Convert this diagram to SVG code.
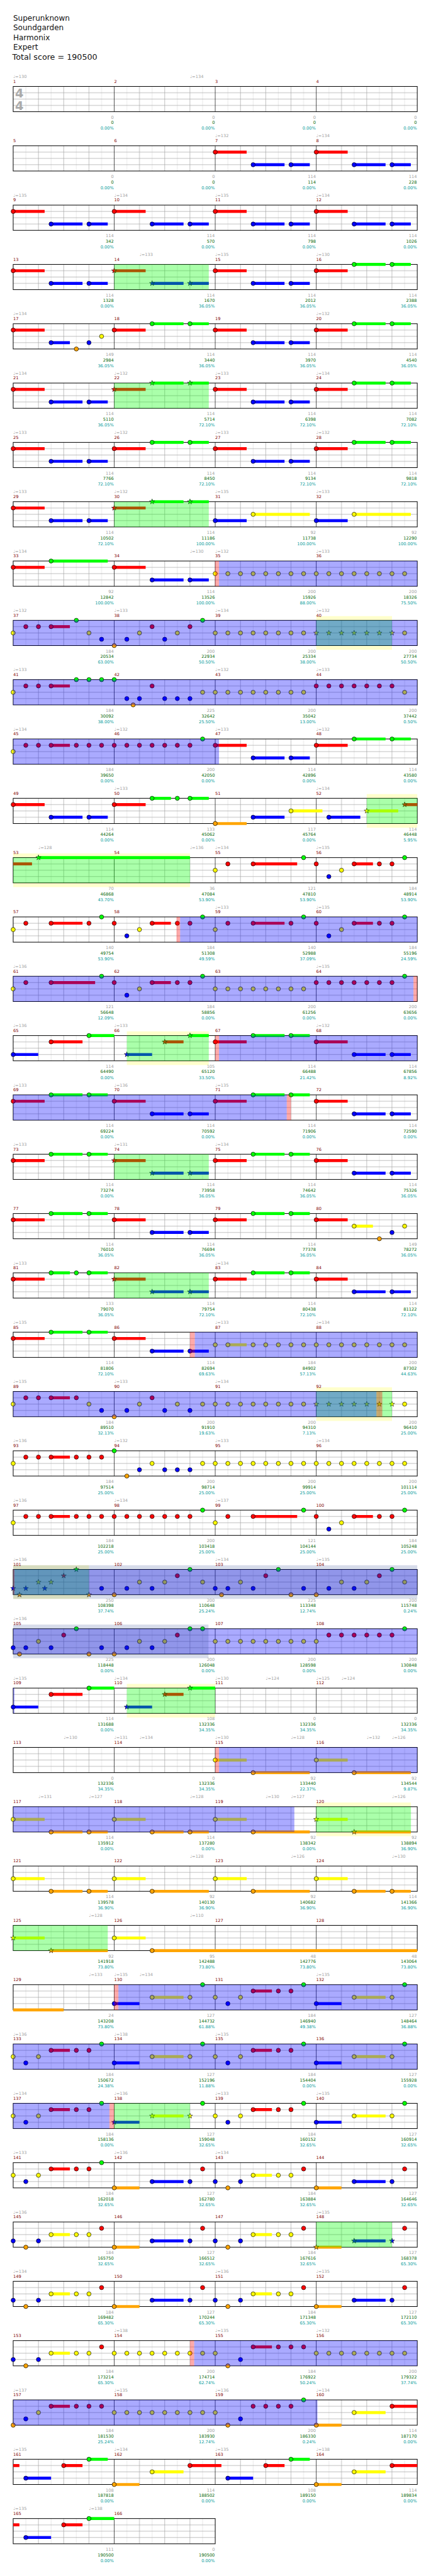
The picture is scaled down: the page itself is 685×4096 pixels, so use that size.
<svg xmlns="http://www.w3.org/2000/svg" width="685" height="4096" viewBox="0 0 685 4096">
<style>
text{font-family:"DejaVu Sans",Verdana,sans-serif;font-size:10px}
.h{font-size:18px;fill:#111}
.ts{font-size:29px;font-weight:bold;fill:#aaa}
.tp{fill:#a0a0a0}.mn{fill:#800000}
.a,.b,.c{text-anchor:end}.a{fill:#a0a0a0}.b{fill:#006400}.c{fill:#009999}
.G{fill:#0f0}.R{fill:#f00}.Y{fill:#ff0}.B{fill:#00f}.O{fill:#ffa500}
.zG,.zR,.zY,.zB,.zO{fill:none;stroke-width:7}
.zG{stroke:#0f0}.zR{stroke:#f00}.zY{stroke:#ff0}.zB{stroke:#00f}.zO{stroke:#ffa500}
.ob{fill:#00f;fill-opacity:.333}.og{fill:#0f0;fill-opacity:.333}.op{fill:#f00;fill-opacity:.333}.yb{fill:#ffc}.gb{fill:#203c88;fill-opacity:.18}
</style>
<defs>
<pattern id="grid" width="240" height="60" patternUnits="userSpaceOnUse"><rect width="240" height="60" fill="#fff"/><path d="M30 0V60M90 0V60M150 0V60M210 0V60" stroke="#ddd"/><path d="M0 15H240M0 30H240M0 45H240M60 0V60M120 0V60M180 0V60" stroke="#a0a0a0"/></pattern>
<g id="st4"><rect width="960" height="60" fill="url(#grid)"/><path d="M240 0V60M480 0V60M720 0V60" stroke="#000"/><rect width="960" height="60" fill="none" stroke="#000" stroke-width="1.5"/></g>
<g id="st2"><rect width="480" height="60" fill="url(#grid)"/><path d="M240 0V60" stroke="#000"/><rect width="480" height="60" fill="none" stroke="#000" stroke-width="1.5"/></g>
<circle id="n" r="5" stroke="#000" stroke-width="1"/>
<path id="s" d="M0-6.5L1.5-2.1 6.2-2 2.5.8 3.8 5.3 0 2.6-3.8 5.3-2.5.8-6.2-2-1.5-2.1Z" stroke="#000" stroke-width=".8"/>
</defs>
<g transform="scale(0.66895)">
<g id="title">
<text class="h" x="31.3" y="49.3">Superunknown</text>
<text class="h" x="31.3" y="72.3">Soundgarden</text>
<text class="h" x="31.3" y="95.3">Harmonix</text>
<text class="h" x="31.3" y="118.3">Expert</text>
<text class="h" x="29.3" y="141.3" style="font-size:19px">Total score = 190500</text>
</g>

<g id="row-1" transform="translate(31.33 205.5)">
<use href="#st4"/>
<text class="ts" x="4.5" y="26.5">4</text><text class="ts" x="4.5" y="56.5">4</text>
<text class="tp" y="-20"><tspan x="0">♩=130</tspan><tspan x="420">♩=134</tspan></text>
<text class="mn" y="-8.5"><tspan x="0">1</tspan><tspan x="240">2</tspan><tspan x="480">3</tspan><tspan x="720">4</tspan></text>
<text class="a" y="76.5"><tspan x="239">0</tspan><tspan x="479">0</tspan><tspan x="719">0</tspan><tspan x="959">0</tspan></text>
<text class="b" y="89.5"><tspan x="239">0</tspan><tspan x="479">0</tspan><tspan x="719">0</tspan><tspan x="959">0</tspan></text>
<text class="c" y="103"><tspan x="239">0.00%</tspan><tspan x="479">0.00%</tspan><tspan x="719">0.00%</tspan><tspan x="959">0.00%</tspan></text>
</g>

<g id="row-2" transform="translate(31.33 346.5)">
<use href="#st4"/>
<path class="zR" d="M480 15H554.7M720 15H794.7"/>
<path class="zB" d="M570 45H644.7M660 45H704.7M810 45H884.7M900 45H944.7"/>
<g class="R" transform="translate(0 15)"><use href="#n" x="480"/><use href="#n" x="720"/></g>
<g class="B" transform="translate(0 45)"><use href="#n" x="570"/><use href="#n" x="660"/><use href="#n" x="810"/><use href="#n" x="900"/></g>
<text class="tp" y="-20"><tspan x="480">♩=132</tspan><tspan x="720">♩=134</tspan></text>
<text class="mn" y="-8.5"><tspan x="0">5</tspan><tspan x="240">6</tspan><tspan x="480">7</tspan><tspan x="720">8</tspan></text>
<text class="a" y="76.5"><tspan x="239">0</tspan><tspan x="479">0</tspan><tspan x="719">114</tspan><tspan x="959">114</tspan></text>
<text class="b" y="89.5"><tspan x="239">0</tspan><tspan x="479">0</tspan><tspan x="719">114</tspan><tspan x="959">228</tspan></text>
<text class="c" y="103"><tspan x="239">0.00%</tspan><tspan x="479">0.00%</tspan><tspan x="719">0.00%</tspan><tspan x="959">0.00%</tspan></text>
</g>

<g id="row-3" transform="translate(31.33 487.5)">
<use href="#st4"/>
<path class="zR" d="M0 15H74.7M240 15H314.7M480 15H554.7M720 15H794.7"/>
<path class="zB" d="M90 45H164.7M180 45H224.7M330 45H404.7M420 45H464.7M570 45H644.7M660 45H704.7M810 45H884.7M900 45H944.7"/>
<g class="R" transform="translate(0 15)"><use href="#n" x="0"/><use href="#n" x="240"/><use href="#n" x="480"/><use href="#n" x="720"/></g>
<g class="B" transform="translate(0 45)"><use href="#n" x="90"/><use href="#n" x="180"/><use href="#n" x="330"/><use href="#n" x="420"/><use href="#n" x="570"/><use href="#n" x="660"/><use href="#n" x="810"/><use href="#n" x="900"/></g>
<text class="tp" y="-20"><tspan x="0">♩=135</tspan><tspan x="240">♩=134</tspan><tspan x="480">♩=135</tspan><tspan x="720">♩=134</tspan></text>
<text class="mn" y="-8.5"><tspan x="0">9</tspan><tspan x="240">10</tspan><tspan x="480">11</tspan><tspan x="720">12</tspan></text>
<text class="a" y="76.5"><tspan x="239">114</tspan><tspan x="479">114</tspan><tspan x="719">114</tspan><tspan x="959">114</tspan></text>
<text class="b" y="89.5"><tspan x="239">342</tspan><tspan x="479">570</tspan><tspan x="719">798</tspan><tspan x="959">1026</tspan></text>
<text class="c" y="103"><tspan x="239">0.00%</tspan><tspan x="479">0.00%</tspan><tspan x="719">0.00%</tspan><tspan x="959">0.00%</tspan></text>
</g>

<g id="row-4" transform="translate(31.33 628.5)">
<use href="#st4"/>
<path class="zR" d="M0 15H74.7M240 15H314.7M480 15H554.7M720 15H794.7"/>
<path class="zB" d="M90 45H164.7M180 45H224.7M330 45H404.7M420 45H464.7M570 45H644.7M660 45H704.7"/>
<path class="zG" d="M810 0H884.7M900 0H944.7"/>
<g class="R" transform="translate(0 15)"><use href="#n" x="0"/><use href="#n" x="480"/><use href="#n" x="720"/><use href="#s" x="240"/></g>
<g class="B" transform="translate(0 45)"><use href="#n" x="90"/><use href="#n" x="180"/><use href="#n" x="570"/><use href="#n" x="660"/><use href="#s" x="330"/><use href="#s" x="420"/></g>
<g class="G"><use href="#n" x="810"/><use href="#n" x="900"/></g>
<rect class="og" x="240" width="224.7" height="60"/>
<text class="tp" y="-20"><tspan x="300">♩=133</tspan><tspan x="480">♩=135</tspan><tspan x="720">♩=130</tspan></text>
<text class="mn" y="-8.5"><tspan x="0">13</tspan><tspan x="240">14</tspan><tspan x="480">15</tspan><tspan x="720">16</tspan></text>
<text class="a" y="76.5"><tspan x="239">114</tspan><tspan x="479">114</tspan><tspan x="719">114</tspan><tspan x="959">114</tspan></text>
<text class="b" y="89.5"><tspan x="239">1328</tspan><tspan x="479">1670</tspan><tspan x="719">2012</tspan><tspan x="959">2388</tspan></text>
<text class="c" y="103"><tspan x="239">0.00%</tspan><tspan x="479">36.05%</tspan><tspan x="719">36.05%</tspan><tspan x="959">36.05%</tspan></text>
</g>

<g id="row-5" transform="translate(31.33 769.5)">
<use href="#st4"/>
<path class="zR" d="M0 15H74.7M240 15H314.7M480 15H554.7M720 15H794.7"/>
<path class="zB" d="M90 45H134.7M570 45H644.7M660 45H704.7"/>
<path class="zG" d="M330 0H404.7M420 0H464.7M810 0H884.7M900 0H944.7"/>
<g class="R" transform="translate(0 15)"><use href="#n" x="0"/><use href="#n" x="240"/><use href="#n" x="480"/><use href="#n" x="720"/></g>
<g class="B" transform="translate(0 45)"><use href="#n" x="90"/><use href="#n" x="180"/><use href="#n" x="570"/><use href="#n" x="660"/></g>
<g class="O" transform="translate(0 60)"><use href="#n" x="150"/></g>
<g class="Y" transform="translate(0 30)"><use href="#n" x="210"/></g>
<g class="G"><use href="#n" x="330"/><use href="#n" x="420"/><use href="#n" x="810"/><use href="#n" x="900"/></g>
<text class="tp" y="-20"><tspan x="0">♩=134</tspan><tspan x="720">♩=132</tspan></text>
<text class="mn" y="-8.5"><tspan x="0">17</tspan><tspan x="240">18</tspan><tspan x="480">19</tspan><tspan x="720">20</tspan></text>
<text class="a" y="76.5"><tspan x="239">149</tspan><tspan x="479">114</tspan><tspan x="719">114</tspan><tspan x="959">114</tspan></text>
<text class="b" y="89.5"><tspan x="239">2984</tspan><tspan x="479">3440</tspan><tspan x="719">3970</tspan><tspan x="959">4540</tspan></text>
<text class="c" y="103"><tspan x="239">36.05%</tspan><tspan x="479">36.05%</tspan><tspan x="719">36.05%</tspan><tspan x="959">36.05%</tspan></text>
</g>

<g id="row-6" transform="translate(31.33 910.5)">
<use href="#st4"/>
<path class="zR" d="M0 15H74.7M240 15H314.7M480 15H554.7M720 15H794.7"/>
<path class="zB" d="M90 45H164.7M180 45H224.7M570 45H644.7M660 45H704.7"/>
<path class="zG" d="M330 0H404.7M420 0H464.7M810 0H884.7M900 0H944.7"/>
<g class="R" transform="translate(0 15)"><use href="#n" x="0"/><use href="#n" x="480"/><use href="#n" x="720"/><use href="#s" x="240"/></g>
<g class="B" transform="translate(0 45)"><use href="#n" x="90"/><use href="#n" x="180"/><use href="#n" x="570"/><use href="#n" x="660"/></g>
<g class="G"><use href="#n" x="810"/><use href="#n" x="900"/><use href="#s" x="330"/><use href="#s" x="420"/></g>
<rect class="og" x="240" width="224.7" height="60"/>
<text class="tp" y="-20"><tspan x="0">♩=134</tspan><tspan x="240">♩=132</tspan><tspan x="480">♩=133</tspan><tspan x="720">♩=134</tspan></text>
<text class="mn" y="-8.5"><tspan x="0">21</tspan><tspan x="240">22</tspan><tspan x="480">23</tspan><tspan x="720">24</tspan></text>
<text class="a" y="76.5"><tspan x="239">114</tspan><tspan x="479">114</tspan><tspan x="719">114</tspan><tspan x="959">114</tspan></text>
<text class="b" y="89.5"><tspan x="239">5110</tspan><tspan x="479">5714</tspan><tspan x="719">6398</tspan><tspan x="959">7082</tspan></text>
<text class="c" y="103"><tspan x="239">36.05%</tspan><tspan x="479">72.10%</tspan><tspan x="719">72.10%</tspan><tspan x="959">72.10%</tspan></text>
</g>

<g id="row-7" transform="translate(31.33 1051.5)">
<use href="#st4"/>
<path class="zR" d="M0 15H74.7M240 15H314.7M480 15H554.7M720 15H794.7"/>
<path class="zB" d="M90 45H164.7M180 45H224.7M570 45H644.7M660 45H704.7"/>
<path class="zG" d="M330 0H404.7M420 0H464.7M810 0H884.7M900 0H944.7"/>
<g class="R" transform="translate(0 15)"><use href="#n" x="0"/><use href="#n" x="240"/><use href="#n" x="480"/><use href="#n" x="720"/></g>
<g class="B" transform="translate(0 45)"><use href="#n" x="90"/><use href="#n" x="180"/><use href="#n" x="570"/><use href="#n" x="660"/></g>
<g class="G"><use href="#n" x="330"/><use href="#n" x="420"/><use href="#n" x="810"/><use href="#n" x="900"/></g>
<text class="tp" y="-20"><tspan x="0">♩=133</tspan><tspan x="240">♩=132</tspan><tspan x="480">♩=133</tspan><tspan x="720">♩=132</tspan></text>
<text class="mn" y="-8.5"><tspan x="0">25</tspan><tspan x="240">26</tspan><tspan x="480">27</tspan><tspan x="720">28</tspan></text>
<text class="a" y="76.5"><tspan x="239">114</tspan><tspan x="479">114</tspan><tspan x="719">114</tspan><tspan x="959">114</tspan></text>
<text class="b" y="89.5"><tspan x="239">7766</tspan><tspan x="479">8450</tspan><tspan x="719">9134</tspan><tspan x="959">9818</tspan></text>
<text class="c" y="103"><tspan x="239">72.10%</tspan><tspan x="479">72.10%</tspan><tspan x="719">72.10%</tspan><tspan x="959">72.10%</tspan></text>
</g>

<g id="row-8" transform="translate(31.33 1192.5)">
<use href="#st4"/>
<path class="zR" d="M0 15H74.7M240 15H314.7"/>
<path class="zB" d="M90 45H164.7M180 45H224.7M480 45H554.7M720 45H794.7"/>
<path class="zG" d="M330 0H404.7M420 0H464.7"/>
<path class="zY" d="M570 30H704.7M810 30H944.7"/>
<g class="R" transform="translate(0 15)"><use href="#n" x="0"/><use href="#s" x="240"/></g>
<g class="B" transform="translate(0 45)"><use href="#n" x="90"/><use href="#n" x="180"/><use href="#n" x="480"/><use href="#n" x="720"/></g>
<g class="Y" transform="translate(0 30)"><use href="#n" x="570"/><use href="#n" x="810"/></g>
<g class="G"><use href="#s" x="330"/><use href="#s" x="420"/></g>
<rect class="og" x="240" width="224.7" height="60"/>
<text class="tp" y="-20"><tspan x="0">♩=133</tspan><tspan x="240">♩=132</tspan><tspan x="480">♩=135</tspan><tspan x="720">♩=133</tspan></text>
<text class="mn" y="-8.5"><tspan x="0">29</tspan><tspan x="240">30</tspan><tspan x="480">31</tspan><tspan x="720">32</tspan></text>
<text class="a" y="76.5"><tspan x="239">114</tspan><tspan x="479">114</tspan><tspan x="719">92</tspan><tspan x="959">92</tspan></text>
<text class="b" y="89.5"><tspan x="239">10502</tspan><tspan x="479">11186</tspan><tspan x="719">11738</tspan><tspan x="959">12290</tspan></text>
<text class="c" y="103"><tspan x="239">72.10%</tspan><tspan x="479">100.00%</tspan><tspan x="719">100.00%</tspan><tspan x="959">100.00%</tspan></text>
</g>

<g id="row-9" transform="translate(31.33 1333.5)">
<use href="#st4"/>
<path class="zR" d="M0 15H74.7M240 15H314.7"/>
<path class="zG" d="M90 0H224.7"/>
<path class="zB" d="M330 45H404.7M420 45H464.7"/>
<g class="R" transform="translate(0 15)"><use href="#n" x="0"/><use href="#n" x="240"/></g>
<g class="G"><use href="#n" x="90"/></g>
<g class="B" transform="translate(0 45)"><use href="#n" x="330"/><use href="#n" x="420"/></g>
<g class="Y" transform="translate(0 30)"><use href="#n" x="480"/><use href="#n" x="510"/><use href="#n" x="540"/><use href="#n" x="570"/><use href="#n" x="600"/><use href="#n" x="630"/><use href="#n" x="660"/><use href="#n" x="690"/><use href="#n" x="720"/><use href="#n" x="750"/><use href="#n" x="780"/><use href="#n" x="810"/><use href="#n" x="840"/><use href="#n" x="870"/><use href="#n" x="900"/><use href="#n" x="930"/></g>
<rect class="op" x="479.5" width="9.5" height="60"/>
<rect class="ob" x="489" width="471" height="60"/>
<text class="tp" y="-20"><tspan x="0">♩=134</tspan><tspan x="420">♩=130</tspan><tspan x="480">♩=132</tspan><tspan x="720">♩=133</tspan></text>
<text class="mn" y="-8.5"><tspan x="0">33</tspan><tspan x="240">34</tspan><tspan x="480">35</tspan><tspan x="720">36</tspan></text>
<text class="a" y="76.5"><tspan x="239">92</tspan><tspan x="479">114</tspan><tspan x="719">200</tspan><tspan x="959">200</tspan></text>
<text class="b" y="89.5"><tspan x="239">12842</tspan><tspan x="479">13526</tspan><tspan x="719">15926</tspan><tspan x="959">18326</tspan></text>
<text class="c" y="103"><tspan x="239">100.00%</tspan><tspan x="479">100.00%</tspan><tspan x="719">88.00%</tspan><tspan x="959">75.50%</tspan></text>
</g>

<g id="row-10" transform="translate(31.33 1474.5)">
<rect class="yb" x="720" y="-10" width="180" height="80"/>
<use href="#st4"/>
<path class="zR" d="M90 15H134.7"/>
<g class="Y" transform="translate(0 30)"><use href="#n" x="0"/><use href="#n" x="180"/><use href="#n" x="300"/><use href="#n" x="390"/><use href="#n" x="480"/><use href="#n" x="510"/><use href="#n" x="540"/><use href="#n" x="570"/><use href="#n" x="600"/><use href="#n" x="630"/><use href="#n" x="660"/><use href="#n" x="690"/><use href="#n" x="930"/><use href="#s" x="720"/><use href="#s" x="750"/><use href="#s" x="780"/><use href="#s" x="810"/><use href="#s" x="840"/><use href="#s" x="870"/><use href="#s" x="900"/></g>
<g class="R" transform="translate(0 15)"><use href="#n" x="30"/><use href="#n" x="60"/><use href="#n" x="90"/><use href="#n" x="330"/><use href="#n" x="420"/></g>
<g class="G"><use href="#n" x="150"/><use href="#n" x="450"/></g>
<g class="B" transform="translate(0 45)"><use href="#n" x="210"/><use href="#n" x="270"/><use href="#n" x="360"/></g>
<g class="O" transform="translate(0 60)"><use href="#n" x="240"/></g>
<rect class="og" x="720" width="180" height="60"/>
<rect class="ob" x="0" width="960" height="60"/>
<text class="tp" y="-20"><tspan x="0">♩=132</tspan><tspan x="240">♩=133</tspan><tspan x="480">♩=134</tspan><tspan x="720">♩=132</tspan></text>
<text class="mn" y="-8.5"><tspan x="0">37</tspan><tspan x="240">38</tspan><tspan x="480">39</tspan><tspan x="720">40</tspan></text>
<text class="a" y="76.5"><tspan x="239">184</tspan><tspan x="479">200</tspan><tspan x="719">200</tspan><tspan x="959">200</tspan></text>
<text class="b" y="89.5"><tspan x="239">20534</tspan><tspan x="479">22934</tspan><tspan x="719">25334</tspan><tspan x="959">27734</tspan></text>
<text class="c" y="103"><tspan x="239">63.00%</tspan><tspan x="479">50.50%</tspan><tspan x="719">38.00%</tspan><tspan x="959">50.50%</tspan></text>
</g>

<g id="row-11" transform="translate(31.33 1615.5)">
<use href="#st4"/>
<path class="zR" d="M90 15H134.7"/>
<g class="Y" transform="translate(0 30)"><use href="#n" x="0"/><use href="#n" x="450"/><use href="#n" x="480"/><use href="#n" x="510"/><use href="#n" x="540"/><use href="#n" x="570"/><use href="#n" x="600"/><use href="#n" x="630"/><use href="#n" x="660"/><use href="#n" x="690"/><use href="#n" x="930"/></g>
<g class="R" transform="translate(0 15)"><use href="#n" x="30"/><use href="#n" x="60"/><use href="#n" x="90"/><use href="#n" x="330"/><use href="#n" x="720"/><use href="#n" x="750"/><use href="#n" x="780"/><use href="#n" x="810"/><use href="#n" x="840"/><use href="#n" x="870"/><use href="#n" x="900"/></g>
<g class="G"><use href="#n" x="150"/><use href="#n" x="180"/><use href="#n" x="210"/><use href="#n" x="240"/></g>
<g class="B" transform="translate(0 45)"><use href="#n" x="270"/><use href="#n" x="300"/><use href="#n" x="360"/><use href="#n" x="390"/><use href="#n" x="420"/></g>
<g class="O" transform="translate(0 60)"><use href="#n" x="285"/></g>
<rect class="ob" x="0" width="960" height="60"/>
<text class="tp" y="-20"><tspan x="0">♩=133</tspan><tspan x="480">♩=132</tspan><tspan x="720">♩=133</tspan></text>
<text class="mn" y="-8.5"><tspan x="0">41</tspan><tspan x="240">42</tspan><tspan x="480">43</tspan><tspan x="720">44</tspan></text>
<text class="a" y="76.5"><tspan x="239">184</tspan><tspan x="479">225</tspan><tspan x="719">200</tspan><tspan x="959">200</tspan></text>
<text class="b" y="89.5"><tspan x="239">30092</tspan><tspan x="479">32642</tspan><tspan x="719">35042</tspan><tspan x="959">37442</tspan></text>
<text class="c" y="103"><tspan x="239">38.00%</tspan><tspan x="479">25.50%</tspan><tspan x="719">13.00%</tspan><tspan x="959">0.50%</tspan></text>
</g>

<g id="row-12" transform="translate(31.33 1756.5)">
<use href="#st4"/>
<path class="zR" d="M90 15H134.7M480 15H554.7M720 15H794.7"/>
<path class="zB" d="M570 45H644.7M660 45H704.7"/>
<path class="zG" d="M810 0H884.7M900 0H944.7"/>
<g class="Y" transform="translate(0 30)"><use href="#n" x="0"/></g>
<g class="R" transform="translate(0 15)"><use href="#n" x="30"/><use href="#n" x="60"/><use href="#n" x="90"/><use href="#n" x="150"/><use href="#n" x="180"/><use href="#n" x="210"/><use href="#n" x="240"/><use href="#n" x="270"/><use href="#n" x="300"/><use href="#n" x="330"/><use href="#n" x="360"/><use href="#n" x="390"/><use href="#n" x="420"/><use href="#n" x="480"/><use href="#n" x="720"/></g>
<g class="G"><use href="#n" x="450"/><use href="#n" x="810"/><use href="#n" x="900"/></g>
<g class="B" transform="translate(0 45)"><use href="#n" x="570"/><use href="#n" x="660"/></g>
<rect class="ob" x="0" width="489" height="60"/>
<text class="tp" y="-20"><tspan x="0">♩=134</tspan><tspan x="240">♩=132</tspan><tspan x="480">♩=133</tspan><tspan x="720">♩=132</tspan></text>
<text class="mn" y="-8.5"><tspan x="0">45</tspan><tspan x="240">46</tspan><tspan x="480">47</tspan><tspan x="720">48</tspan></text>
<text class="a" y="76.5"><tspan x="239">184</tspan><tspan x="479">200</tspan><tspan x="719">114</tspan><tspan x="959">114</tspan></text>
<text class="b" y="89.5"><tspan x="239">39650</tspan><tspan x="479">42050</tspan><tspan x="719">42896</tspan><tspan x="959">43580</tspan></text>
<text class="c" y="103"><tspan x="239">0.00%</tspan><tspan x="479">0.00%</tspan><tspan x="719">0.00%</tspan><tspan x="959">0.00%</tspan></text>
</g>

<g id="row-13" transform="translate(31.33 1897.5)">
<rect class="yb" x="840" y="-10" width="120" height="80"/>
<use href="#st4"/>
<path class="zR" d="M0 15H74.7M240 15H314.7M930 15H960"/>
<path class="zB" d="M90 45H164.7M180 45H224.7M570 45H644.7M750 45H824.7"/>
<path class="zG" d="M330 0H374.7M420 0H464.7"/>
<path class="zO" d="M480 60H554.7"/>
<path class="zY" d="M660 30H734.7M840 30H914.7"/>
<g class="R" transform="translate(0 15)"><use href="#n" x="0"/><use href="#n" x="240"/><use href="#s" x="930"/></g>
<g class="B" transform="translate(0 45)"><use href="#n" x="90"/><use href="#n" x="180"/><use href="#n" x="570"/><use href="#n" x="750"/></g>
<g class="G"><use href="#n" x="330"/><use href="#n" x="390"/><use href="#n" x="420"/></g>
<g class="O" transform="translate(0 60)"><use href="#n" x="480"/></g>
<g class="Y" transform="translate(0 30)"><use href="#n" x="660"/><use href="#s" x="840"/></g>
<rect class="og" x="840" width="120" height="60"/>
<text class="tp" y="-20"><tspan x="240">♩=133</tspan><tspan x="720">♩=134</tspan></text>
<text class="mn" y="-8.5"><tspan x="0">49</tspan><tspan x="240">50</tspan><tspan x="480">51</tspan><tspan x="720">52</tspan></text>
<text class="a" y="76.5"><tspan x="239">114</tspan><tspan x="479">133</tspan><tspan x="719">117</tspan><tspan x="959">114</tspan></text>
<text class="b" y="89.5"><tspan x="239">44264</tspan><tspan x="479">45062</tspan><tspan x="719">45764</tspan><tspan x="959">46448</tspan></text>
<text class="c" y="103"><tspan x="239">0.00%</tspan><tspan x="479">0.00%</tspan><tspan x="719">0.00%</tspan><tspan x="959">5.95%</tspan></text>
</g>

<g id="row-14" transform="translate(31.33 2038.5)">
<rect class="yb" x="0" y="-10" width="420" height="80"/>
<use href="#st4"/>
<path class="zR" d="M0 15H44.7M570 15H674.7M810 15H854.7"/>
<path class="zG" d="M60 0H420"/>
<g class="G"><use href="#s" x="60"/><use href="#n" x="690"/><use href="#n" x="930"/></g>
<g class="Y" transform="translate(0 30)"><use href="#n" x="480"/><use href="#n" x="780"/></g>
<g class="R" transform="translate(0 15)"><use href="#n" x="510"/><use href="#n" x="570"/><use href="#n" x="720"/><use href="#n" x="810"/><use href="#n" x="870"/><use href="#n" x="900"/></g>
<g class="B" transform="translate(0 45)"><use href="#n" x="750"/></g>
<rect class="og" x="0" width="420" height="60"/>
<text class="tp" y="-20"><tspan x="60">♩=128</tspan><tspan x="420">♩=136</tspan><tspan x="480">♩=134</tspan><tspan x="720">♩=135</tspan></text>
<text class="mn" y="-8.5"><tspan x="0">53</tspan><tspan x="240">54</tspan><tspan x="480">55</tspan><tspan x="720">56</tspan></text>
<text class="a" y="76.5"><tspan x="239">70</tspan><tspan x="479">36</tspan><tspan x="719">121</tspan><tspan x="959">184</tspan></text>
<text class="b" y="89.5"><tspan x="239">46868</tspan><tspan x="479">47084</tspan><tspan x="719">47810</tspan><tspan x="959">48914</tspan></text>
<text class="c" y="103"><tspan x="239">43.70%</tspan><tspan x="479">53.90%</tspan><tspan x="719">53.90%</tspan><tspan x="959">53.90%</tspan></text>
</g>

<g id="row-15" transform="translate(31.33 2179.5)">
<use href="#st4"/>
<path class="zR" d="M90 15H164.7M330 15H374.7M570 15H644.7M810 15H854.7"/>
<g class="R" transform="translate(0 15)"><use href="#n" x="30"/><use href="#n" x="90"/><use href="#n" x="180"/><use href="#n" x="240"/><use href="#n" x="330"/><use href="#n" x="390"/><use href="#n" x="420"/><use href="#n" x="510"/><use href="#n" x="570"/><use href="#n" x="660"/><use href="#n" x="720"/><use href="#n" x="810"/><use href="#n" x="870"/><use href="#n" x="900"/></g>
<g class="Y" transform="translate(0 30)"><use href="#n" x="0"/><use href="#n" x="300"/><use href="#n" x="480"/><use href="#n" x="780"/></g>
<g class="G"><use href="#n" x="210"/><use href="#n" x="450"/><use href="#n" x="690"/><use href="#n" x="930"/></g>
<g class="B" transform="translate(0 45)"><use href="#n" x="270"/><use href="#n" x="750"/></g>
<rect class="op" x="388" width="8.6" height="60"/>
<rect class="ob" x="396.6" width="563.4" height="60"/>
<text class="tp" y="-20"><tspan x="480">♩=133</tspan><tspan x="720">♩=135</tspan></text>
<text class="mn" y="-8.5"><tspan x="0">57</tspan><tspan x="240">58</tspan><tspan x="480">59</tspan><tspan x="720">60</tspan></text>
<text class="a" y="76.5"><tspan x="239">140</tspan><tspan x="479">184</tspan><tspan x="719">140</tspan><tspan x="959">184</tspan></text>
<text class="b" y="89.5"><tspan x="239">49754</tspan><tspan x="479">51308</tspan><tspan x="719">52988</tspan><tspan x="959">55196</tspan></text>
<text class="c" y="103"><tspan x="239">53.90%</tspan><tspan x="479">49.59%</tspan><tspan x="719">37.09%</tspan><tspan x="959">24.59%</tspan></text>
</g>

<g id="row-16" transform="translate(31.33 2320.5)">
<use href="#st4"/>
<path class="zR" d="M90 15H194.7M330 15H374.7"/>
<g class="R" transform="translate(0 15)"><use href="#n" x="30"/><use href="#n" x="90"/><use href="#n" x="240"/><use href="#n" x="330"/><use href="#n" x="390"/><use href="#n" x="420"/><use href="#n" x="720"/><use href="#n" x="750"/><use href="#n" x="780"/><use href="#n" x="810"/><use href="#n" x="840"/><use href="#n" x="870"/><use href="#n" x="900"/></g>
<g class="Y" transform="translate(0 30)"><use href="#n" x="0"/><use href="#n" x="300"/><use href="#n" x="480"/><use href="#n" x="510"/><use href="#n" x="540"/><use href="#n" x="570"/><use href="#n" x="600"/><use href="#n" x="630"/><use href="#n" x="660"/><use href="#n" x="690"/></g>
<g class="G"><use href="#n" x="210"/><use href="#n" x="450"/><use href="#n" x="930"/></g>
<g class="B" transform="translate(0 45)"><use href="#n" x="270"/></g>
<rect class="ob" x="0" width="951" height="60"/>
<rect class="op" x="951" width="9" height="60"/>
<text class="tp" y="-20"><tspan x="0">♩=136</tspan><tspan x="720">♩=135</tspan></text>
<text class="mn" y="-8.5"><tspan x="0">61</tspan><tspan x="240">62</tspan><tspan x="480">63</tspan><tspan x="720">64</tspan></text>
<text class="a" y="76.5"><tspan x="239">121</tspan><tspan x="479">184</tspan><tspan x="719">200</tspan><tspan x="959">200</tspan></text>
<text class="b" y="89.5"><tspan x="239">56648</tspan><tspan x="479">58856</tspan><tspan x="719">61256</tspan><tspan x="959">63656</tspan></text>
<text class="c" y="103"><tspan x="239">12.09%</tspan><tspan x="479">0.00%</tspan><tspan x="719">0.00%</tspan><tspan x="959">0.00%</tspan></text>
</g>

<g id="row-17" transform="translate(31.33 2461.5)">
<rect class="yb" x="270" y="-10" width="194.7" height="80"/>
<use href="#st4"/>
<path class="zR" d="M90 15H164.7M360 15H404.7M480 15H554.7M720 15H794.7"/>
<path class="zB" d="M0 45H59.5M270 45H330M810 45H884.7M900 45H944.7"/>
<path class="zG" d="M180 0H240M420 0H464.7M570 0H644.7M660 0H704.7"/>
<g class="B" transform="translate(0 45)"><use href="#n" x="0"/><use href="#n" x="810"/><use href="#n" x="900"/><use href="#s" x="270"/></g>
<g class="R" transform="translate(0 15)"><use href="#n" x="90"/><use href="#n" x="480"/><use href="#n" x="720"/><use href="#s" x="360"/></g>
<g class="G"><use href="#n" x="180"/><use href="#n" x="570"/><use href="#n" x="660"/><use href="#s" x="420"/></g>
<rect class="og" x="270" width="194.7" height="60"/>
<rect class="op" x="480" width="9" height="60"/>
<rect class="ob" x="489" width="471" height="60"/>
<text class="tp" y="-20"><tspan x="0">♩=136</tspan><tspan x="240">♩=133</tspan><tspan x="720">♩=132</tspan></text>
<text class="mn" y="-8.5"><tspan x="0">65</tspan><tspan x="240">66</tspan><tspan x="480">67</tspan><tspan x="720">68</tspan></text>
<text class="a" y="76.5"><tspan x="239">114</tspan><tspan x="479">105</tspan><tspan x="719">114</tspan><tspan x="959">114</tspan></text>
<text class="b" y="89.5"><tspan x="239">64490</tspan><tspan x="479">65120</tspan><tspan x="719">66488</tspan><tspan x="959">67856</tspan></text>
<text class="c" y="103"><tspan x="239">0.00%</tspan><tspan x="479">33.50%</tspan><tspan x="719">21.42%</tspan><tspan x="959">8.92%</tspan></text>
</g>

<g id="row-18" transform="translate(31.33 2602.5)">
<use href="#st4"/>
<path class="zR" d="M0 15H74.7M240 15H314.7M480 15H554.7M720 15H794.7"/>
<path class="zG" d="M90 0H164.7M180 0H224.7M570 0H644.7M660 0H704.7"/>
<path class="zB" d="M330 45H404.7M420 45H464.7M810 45H884.7M900 45H944.7"/>
<g class="R" transform="translate(0 15)"><use href="#n" x="0"/><use href="#n" x="240"/><use href="#n" x="480"/><use href="#n" x="720"/></g>
<g class="G"><use href="#n" x="90"/><use href="#n" x="180"/><use href="#n" x="570"/><use href="#n" x="660"/></g>
<g class="B" transform="translate(0 45)"><use href="#n" x="330"/><use href="#n" x="420"/><use href="#n" x="810"/><use href="#n" x="900"/></g>
<rect class="ob" x="0" width="650" height="60"/>
<rect class="op" x="650" width="10" height="60"/>
<text class="tp" y="-20"><tspan x="0">♩=133</tspan><tspan x="240">♩=136</tspan><tspan x="480">♩=135</tspan></text>
<text class="mn" y="-8.5"><tspan x="0">69</tspan><tspan x="240">70</tspan><tspan x="480">71</tspan><tspan x="720">72</tspan></text>
<text class="a" y="76.5"><tspan x="239">114</tspan><tspan x="479">114</tspan><tspan x="719">114</tspan><tspan x="959">114</tspan></text>
<text class="b" y="89.5"><tspan x="239">69224</tspan><tspan x="479">70592</tspan><tspan x="719">71906</tspan><tspan x="959">72590</tspan></text>
<text class="c" y="103"><tspan x="239">0.00%</tspan><tspan x="479">0.00%</tspan><tspan x="719">0.00%</tspan><tspan x="959">0.00%</tspan></text>
</g>

<g id="row-19" transform="translate(31.33 2743.5)">
<use href="#st4"/>
<path class="zR" d="M0 15H74.7M240 15H314.7M480 15H554.7M720 15H794.7"/>
<path class="zG" d="M90 0H164.7M180 0H224.7M570 0H644.7M660 0H704.7"/>
<path class="zB" d="M330 45H404.7M420 45H464.7M810 45H884.7M900 45H944.7"/>
<g class="R" transform="translate(0 15)"><use href="#n" x="0"/><use href="#n" x="480"/><use href="#n" x="720"/><use href="#s" x="240"/></g>
<g class="G"><use href="#n" x="90"/><use href="#n" x="180"/><use href="#n" x="570"/><use href="#n" x="660"/></g>
<g class="B" transform="translate(0 45)"><use href="#n" x="810"/><use href="#n" x="900"/><use href="#s" x="330"/><use href="#s" x="420"/></g>
<rect class="og" x="240" width="224.7" height="60"/>
<text class="tp" y="-20"><tspan x="0">♩=133</tspan><tspan x="240">♩=131</tspan><tspan x="480">♩=134</tspan></text>
<text class="mn" y="-8.5"><tspan x="0">73</tspan><tspan x="240">74</tspan><tspan x="480">75</tspan><tspan x="720">76</tspan></text>
<text class="a" y="76.5"><tspan x="239">114</tspan><tspan x="479">114</tspan><tspan x="719">114</tspan><tspan x="959">114</tspan></text>
<text class="b" y="89.5"><tspan x="239">73274</tspan><tspan x="479">73958</tspan><tspan x="719">74642</tspan><tspan x="959">75326</tspan></text>
<text class="c" y="103"><tspan x="239">0.00%</tspan><tspan x="479">36.05%</tspan><tspan x="719">36.05%</tspan><tspan x="959">36.05%</tspan></text>
</g>

<g id="row-20" transform="translate(31.33 2884.5)">
<use href="#st4"/>
<path class="zR" d="M0 15H74.7M240 15H314.7M480 15H554.7M720 15H794.7"/>
<path class="zG" d="M90 0H164.7M180 0H224.7M570 0H644.7M660 0H704.7"/>
<path class="zB" d="M330 45H404.7M420 45H464.7"/>
<path class="zY" d="M810 30H854.7"/>
<g class="R" transform="translate(0 15)"><use href="#n" x="0"/><use href="#n" x="240"/><use href="#n" x="480"/><use href="#n" x="720"/></g>
<g class="G"><use href="#n" x="90"/><use href="#n" x="180"/><use href="#n" x="570"/><use href="#n" x="660"/></g>
<g class="B" transform="translate(0 45)"><use href="#n" x="330"/><use href="#n" x="420"/><use href="#n" x="900"/></g>
<g class="Y" transform="translate(0 30)"><use href="#n" x="810"/><use href="#n" x="930"/></g>
<g class="O" transform="translate(0 60)"><use href="#n" x="870"/></g>
<text class="mn" y="-8.5"><tspan x="0">77</tspan><tspan x="240">78</tspan><tspan x="480">79</tspan><tspan x="720">80</tspan></text>
<text class="a" y="76.5"><tspan x="239">114</tspan><tspan x="479">114</tspan><tspan x="719">114</tspan><tspan x="959">149</tspan></text>
<text class="b" y="89.5"><tspan x="239">76010</tspan><tspan x="479">76694</tspan><tspan x="719">77378</tspan><tspan x="959">78272</tspan></text>
<text class="c" y="103"><tspan x="239">36.05%</tspan><tspan x="479">36.05%</tspan><tspan x="719">36.05%</tspan><tspan x="959">36.05%</tspan></text>
</g>

<g id="row-21" transform="translate(31.33 3025.5)">
<use href="#st4"/>
<path class="zR" d="M0 15H74.7M240 15H314.7M480 15H554.7M720 15H794.7"/>
<path class="zG" d="M90 0H134.7M180 0H224.7M570 0H644.7M660 0H704.7"/>
<path class="zB" d="M330 45H404.7M420 45H464.7M810 45H884.7M900 45H944.7"/>
<g class="R" transform="translate(0 15)"><use href="#n" x="0"/><use href="#n" x="480"/><use href="#n" x="720"/><use href="#s" x="240"/></g>
<g class="G"><use href="#n" x="90"/><use href="#n" x="150"/><use href="#n" x="180"/><use href="#n" x="570"/><use href="#n" x="660"/></g>
<g class="B" transform="translate(0 45)"><use href="#n" x="810"/><use href="#n" x="900"/><use href="#s" x="330"/><use href="#s" x="420"/></g>
<rect class="og" x="240" width="224.7" height="60"/>
<text class="tp" y="-20"><tspan x="0">♩=133</tspan><tspan x="480">♩=134</tspan></text>
<text class="mn" y="-8.5"><tspan x="0">81</tspan><tspan x="240">82</tspan><tspan x="480">83</tspan><tspan x="720">84</tspan></text>
<text class="a" y="76.5"><tspan x="239">133</tspan><tspan x="479">114</tspan><tspan x="719">114</tspan><tspan x="959">114</tspan></text>
<text class="b" y="89.5"><tspan x="239">79070</tspan><tspan x="479">79754</tspan><tspan x="719">80438</tspan><tspan x="959">81122</tspan></text>
<text class="c" y="103"><tspan x="239">36.05%</tspan><tspan x="479">72.10%</tspan><tspan x="719">72.10%</tspan><tspan x="959">72.10%</tspan></text>
</g>

<g id="row-22" transform="translate(31.33 3166.5)">
<use href="#st4"/>
<path class="zR" d="M0 15H74.7M240 15H314.7"/>
<path class="zG" d="M90 0H164.7M180 0H224.7"/>
<path class="zB" d="M330 45H404.7M420 45H464.7"/>
<path class="zY" d="M510 30H554.7"/>
<g class="R" transform="translate(0 15)"><use href="#n" x="0"/><use href="#n" x="240"/></g>
<g class="G"><use href="#n" x="90"/><use href="#n" x="180"/></g>
<g class="B" transform="translate(0 45)"><use href="#n" x="330"/><use href="#n" x="420"/></g>
<g class="Y" transform="translate(0 30)"><use href="#n" x="480"/><use href="#n" x="510"/><use href="#n" x="570"/><use href="#n" x="600"/><use href="#n" x="630"/><use href="#n" x="660"/><use href="#n" x="690"/><use href="#n" x="720"/><use href="#n" x="750"/><use href="#n" x="780"/><use href="#n" x="810"/><use href="#n" x="840"/><use href="#n" x="870"/><use href="#n" x="900"/><use href="#n" x="930"/></g>
<rect class="op" x="420" width="11.5" height="60"/>
<rect class="ob" x="431.5" width="528.5" height="60"/>
<text class="tp" y="-20"><tspan x="0">♩=135</tspan><tspan x="480">♩=133</tspan><tspan x="720">♩=134</tspan></text>
<text class="mn" y="-8.5"><tspan x="0">85</tspan><tspan x="240">86</tspan><tspan x="480">87</tspan><tspan x="720">88</tspan></text>
<text class="a" y="76.5"><tspan x="239">114</tspan><tspan x="479">114</tspan><tspan x="719">184</tspan><tspan x="959">200</tspan></text>
<text class="b" y="89.5"><tspan x="239">81806</tspan><tspan x="479">82694</tspan><tspan x="719">84902</tspan><tspan x="959">87302</tspan></text>
<text class="c" y="103"><tspan x="239">72.10%</tspan><tspan x="479">69.63%</tspan><tspan x="719">57.13%</tspan><tspan x="959">44.63%</tspan></text>
</g>

<g id="row-23" transform="translate(31.33 3307.5)">
<rect class="yb" x="720" y="-10" width="180" height="80"/>
<use href="#st4"/>
<path class="zR" d="M90 15H134.7"/>
<g class="Y" transform="translate(0 30)"><use href="#n" x="0"/><use href="#n" x="180"/><use href="#n" x="300"/><use href="#n" x="390"/><use href="#n" x="450"/><use href="#n" x="480"/><use href="#n" x="510"/><use href="#n" x="540"/><use href="#n" x="570"/><use href="#n" x="600"/><use href="#n" x="630"/><use href="#n" x="660"/><use href="#n" x="690"/><use href="#n" x="930"/><use href="#s" x="720"/><use href="#s" x="750"/><use href="#s" x="780"/><use href="#s" x="810"/><use href="#s" x="840"/><use href="#s" x="870"/><use href="#s" x="900"/></g>
<g class="R" transform="translate(0 15)"><use href="#n" x="30"/><use href="#n" x="60"/><use href="#n" x="90"/><use href="#n" x="150"/><use href="#n" x="330"/></g>
<g class="B" transform="translate(0 45)"><use href="#n" x="210"/><use href="#n" x="270"/><use href="#n" x="360"/><use href="#n" x="420"/></g>
<g class="O" transform="translate(0 60)"><use href="#n" x="240"/></g>
<rect class="og" x="720" width="180" height="60"/>
<rect class="ob" x="0" width="863" height="60"/>
<rect class="op" x="863" width="14" height="60"/>
<text class="tp" y="-20"><tspan x="0">♩=135</tspan><tspan x="240">♩=133</tspan><tspan x="480">♩=134</tspan></text>
<text class="mn" y="-8.5"><tspan x="0">89</tspan><tspan x="240">90</tspan><tspan x="480">91</tspan><tspan x="720">92</tspan></text>
<text class="a" y="76.5"><tspan x="239">184</tspan><tspan x="479">200</tspan><tspan x="719">200</tspan><tspan x="959">200</tspan></text>
<text class="b" y="89.5"><tspan x="239">89510</tspan><tspan x="479">91910</tspan><tspan x="719">94310</tspan><tspan x="959">96410</tspan></text>
<text class="c" y="103"><tspan x="239">32.13%</tspan><tspan x="479">19.63%</tspan><tspan x="719">7.13%</tspan><tspan x="959">25.00%</tspan></text>
</g>

<g id="row-24" transform="translate(31.33 3448.5)">
<use href="#st4"/>
<path class="zR" d="M90 15H134.7"/>
<g class="Y" transform="translate(0 30)"><use href="#n" x="0"/><use href="#n" x="330"/><use href="#n" x="450"/><use href="#n" x="480"/><use href="#n" x="510"/><use href="#n" x="540"/><use href="#n" x="570"/><use href="#n" x="600"/><use href="#n" x="630"/><use href="#n" x="660"/><use href="#n" x="690"/><use href="#n" x="720"/><use href="#n" x="750"/><use href="#n" x="780"/><use href="#n" x="810"/><use href="#n" x="840"/><use href="#n" x="870"/><use href="#n" x="900"/><use href="#n" x="930"/></g>
<g class="R" transform="translate(0 15)"><use href="#n" x="30"/><use href="#n" x="60"/><use href="#n" x="90"/><use href="#n" x="150"/><use href="#n" x="180"/><use href="#n" x="210"/></g>
<g class="G"><use href="#n" x="240"/></g>
<g class="O" transform="translate(0 60)"><use href="#n" x="270"/></g>
<g class="B" transform="translate(0 45)"><use href="#n" x="300"/><use href="#n" x="360"/><use href="#n" x="390"/><use href="#n" x="420"/></g>
<text class="tp" y="-20"><tspan x="0">♩=136</tspan><tspan x="240">♩=132</tspan><tspan x="480">♩=133</tspan><tspan x="720">♩=134</tspan></text>
<text class="mn" y="-8.5"><tspan x="0">93</tspan><tspan x="240">94</tspan><tspan x="480">95</tspan><tspan x="720">96</tspan></text>
<text class="a" y="76.5"><tspan x="239">184</tspan><tspan x="479">200</tspan><tspan x="719">200</tspan><tspan x="959">200</tspan></text>
<text class="b" y="89.5"><tspan x="239">97514</tspan><tspan x="479">98714</tspan><tspan x="719">99914</tspan><tspan x="959">101114</tspan></text>
<text class="c" y="103"><tspan x="239">25.00%</tspan><tspan x="479">25.00%</tspan><tspan x="719">25.00%</tspan><tspan x="959">25.00%</tspan></text>
</g>

<g id="row-25" transform="translate(31.33 3589.5)">
<use href="#st4"/>
<path class="zR" d="M90 15H134.7M570 15H674.7M810 15H854.7"/>
<g class="Y" transform="translate(0 30)"><use href="#n" x="0"/><use href="#n" x="480"/><use href="#n" x="780"/></g>
<g class="R" transform="translate(0 15)"><use href="#n" x="30"/><use href="#n" x="60"/><use href="#n" x="90"/><use href="#n" x="150"/><use href="#n" x="180"/><use href="#n" x="210"/><use href="#n" x="240"/><use href="#n" x="270"/><use href="#n" x="300"/><use href="#n" x="330"/><use href="#n" x="360"/><use href="#n" x="390"/><use href="#n" x="420"/><use href="#n" x="510"/><use href="#n" x="570"/><use href="#n" x="720"/><use href="#n" x="810"/><use href="#n" x="870"/><use href="#n" x="900"/></g>
<g class="G"><use href="#n" x="450"/><use href="#n" x="690"/><use href="#n" x="930"/></g>
<g class="B" transform="translate(0 45)"><use href="#n" x="750"/></g>
<text class="tp" y="-20"><tspan x="0">♩=136</tspan><tspan x="240">♩=134</tspan><tspan x="480">♩=137</tspan></text>
<text class="mn" y="-8.5"><tspan x="0">97</tspan><tspan x="240">98</tspan><tspan x="480">99</tspan><tspan x="720">100</tspan></text>
<text class="a" y="76.5"><tspan x="239">184</tspan><tspan x="479">200</tspan><tspan x="719">121</tspan><tspan x="959">184</tspan></text>
<text class="b" y="89.5"><tspan x="239">102218</tspan><tspan x="479">103418</tspan><tspan x="719">104144</tspan><tspan x="959">105248</tspan></text>
<text class="c" y="103"><tspan x="239">25.00%</tspan><tspan x="479">25.00%</tspan><tspan x="719">25.00%</tspan><tspan x="959">25.00%</tspan></text>
</g>

<g id="row-26" transform="translate(31.33 3730.5)">
<rect class="yb" x="0" y="-10" width="180" height="80"/>
<use href="#st4"/>
<g class="B" transform="translate(0 45)"><use href="#s" x="0"/><use href="#s" x="30"/><use href="#s" x="75"/><use href="#n" x="210"/><use href="#n" x="270"/><use href="#n" x="330"/><use href="#n" x="480"/><use href="#n" x="510"/><use href="#n" x="570"/><use href="#n" x="690"/><use href="#n" x="750"/><use href="#n" x="810"/></g>
<g class="O" transform="translate(0 60)"><use href="#s" x="15"/><use href="#s" x="180"/><use href="#n" x="240"/><use href="#n" x="495"/><use href="#n" x="660"/><use href="#n" x="720"/></g>
<g class="Y" transform="translate(0 30)"><use href="#s" x="60"/><use href="#s" x="90"/><use href="#n" x="300"/><use href="#n" x="360"/><use href="#n" x="450"/><use href="#n" x="540"/><use href="#n" x="780"/><use href="#n" x="840"/><use href="#n" x="930"/></g>
<g class="R" transform="translate(0 15)"><use href="#s" x="120"/><use href="#n" x="390"/><use href="#n" x="600"/><use href="#n" x="870"/></g>
<g class="G"><use href="#s" x="150"/><use href="#n" x="420"/><use href="#n" x="630"/><use href="#n" x="900"/></g>
<rect class="og" x="0" width="180" height="60"/>
<rect class="ob" x="0" width="960" height="60"/>
<rect class="op" x="0" width="3" height="60"/>
<rect class="gb" x="0" y="-10" width="960" height="80"/>
<text class="tp" y="-20"><tspan x="0">♩=136</tspan><tspan x="480">♩=134</tspan><tspan x="720">♩=135</tspan></text>
<text class="mn" y="-8.5"><tspan x="0">101</tspan><tspan x="240">102</tspan><tspan x="480">103</tspan><tspan x="720">104</tspan></text>
<text class="a" y="76.5"><tspan x="239">250</tspan><tspan x="479">200</tspan><tspan x="719">225</tspan><tspan x="959">200</tspan></text>
<text class="b" y="89.5"><tspan x="239">108398</tspan><tspan x="479">110648</tspan><tspan x="719">113348</tspan><tspan x="959">115748</tspan></text>
<text class="c" y="103"><tspan x="239">37.74%</tspan><tspan x="479">25.24%</tspan><tspan x="719">12.74%</tspan><tspan x="959">0.24%</tspan></text>
</g>

<g id="row-27" transform="translate(31.33 3871.5)">
<use href="#st4"/>
<g class="B" transform="translate(0 45)"><use href="#n" x="0"/><use href="#n" x="30"/><use href="#n" x="90"/><use href="#n" x="210"/><use href="#n" x="270"/><use href="#n" x="330"/></g>
<g class="O" transform="translate(0 60)"><use href="#n" x="15"/><use href="#n" x="180"/><use href="#n" x="240"/></g>
<g class="Y" transform="translate(0 30)"><use href="#n" x="60"/><use href="#n" x="300"/><use href="#n" x="360"/><use href="#n" x="480"/><use href="#n" x="510"/><use href="#n" x="540"/><use href="#n" x="570"/><use href="#n" x="600"/><use href="#n" x="630"/><use href="#n" x="660"/><use href="#n" x="690"/><use href="#n" x="720"/></g>
<g class="R" transform="translate(0 15)"><use href="#n" x="120"/><use href="#n" x="390"/><use href="#n" x="750"/><use href="#n" x="780"/><use href="#n" x="810"/><use href="#n" x="840"/><use href="#n" x="870"/><use href="#n" x="900"/></g>
<g class="G"><use href="#n" x="150"/><use href="#n" x="420"/><use href="#n" x="450"/><use href="#n" x="930"/></g>
<rect class="ob" x="0" width="960" height="60"/>
<rect class="gb" x="0" y="-10" width="464" height="80"/>
<text class="tp" y="-20"><tspan x="0">♩=136</tspan></text>
<text class="mn" y="-8.5"><tspan x="0">105</tspan><tspan x="240">106</tspan><tspan x="480">107</tspan><tspan x="720">108</tspan></text>
<text class="a" y="76.5"><tspan x="239">225</tspan><tspan x="479">200</tspan><tspan x="719">200</tspan><tspan x="959">200</tspan></text>
<text class="b" y="89.5"><tspan x="239">118448</tspan><tspan x="479">126048</tspan><tspan x="719">128598</tspan><tspan x="959">130848</tspan></text>
<text class="c" y="103"><tspan x="239">0.00%</tspan><tspan x="479">0.00%</tspan><tspan x="719">0.00%</tspan><tspan x="959">0.00%</tspan></text>
</g>

<g id="row-28" transform="translate(31.33 4012.5)">
<rect class="yb" x="270" y="-10" width="210" height="80"/>
<use href="#st4"/>
<path class="zR" d="M90 15H164.7M360 15H404.7"/>
<path class="zB" d="M0 45H59.5M270 45H330"/>
<path class="zG" d="M180 0H240M420 0H480"/>
<g class="B" transform="translate(0 45)"><use href="#n" x="0"/><use href="#s" x="270"/></g>
<g class="R" transform="translate(0 15)"><use href="#n" x="90"/><use href="#s" x="360"/></g>
<g class="G"><use href="#n" x="180"/><use href="#s" x="420"/></g>
<rect class="ob" x="0" width="3" height="60"/>
<rect class="og" x="270" width="210" height="60"/>
<text class="tp" y="-20"><tspan x="0">♩=135</tspan><tspan x="240">♩=134</tspan><tspan x="480">♩=130</tspan><tspan x="600">♩=124</tspan><tspan x="720">♩=125</tspan><tspan x="780">♩=124</tspan></text>
<text class="mn" y="-8.5"><tspan x="0">109</tspan><tspan x="240">110</tspan><tspan x="480">111</tspan><tspan x="720">112</tspan></text>
<text class="a" y="76.5"><tspan x="239">114</tspan><tspan x="479">108</tspan><tspan x="719">0</tspan><tspan x="959">0</tspan></text>
<text class="b" y="89.5"><tspan x="239">131688</tspan><tspan x="479">132336</tspan><tspan x="719">132336</tspan><tspan x="959">132336</tspan></text>
<text class="c" y="103"><tspan x="239">0.00%</tspan><tspan x="479">34.35%</tspan><tspan x="719">34.35%</tspan><tspan x="959">34.35%</tspan></text>
</g>

<g id="row-29" transform="translate(31.33 4153.5)">
<use href="#st4"/>
<path class="zY" d="M480 30H554.7M720 30H794.7"/>
<path class="zO" d="M570 60H704.7M810 60H944.7"/>
<g class="Y" transform="translate(0 30)"><use href="#n" x="480"/><use href="#n" x="720"/></g>
<g class="O" transform="translate(0 60)"><use href="#n" x="570"/><use href="#n" x="810"/></g>
<rect class="op" x="480" width="9" height="60"/>
<rect class="ob" x="489" width="471" height="60"/>
<text class="tp" y="-20"><tspan x="120">♩=130</tspan><tspan x="240">♩=131</tspan><tspan x="300">♩=134</tspan><tspan x="480">♩=130</tspan><tspan x="660">♩=128</tspan><tspan x="840">♩=132</tspan><tspan x="900">♩=126</tspan></text>
<text class="mn" y="-8.5"><tspan x="0">113</tspan><tspan x="240">114</tspan><tspan x="480">115</tspan><tspan x="720">116</tspan></text>
<text class="a" y="76.5"><tspan x="239">0</tspan><tspan x="479">0</tspan><tspan x="719">92</tspan><tspan x="959">92</tspan></text>
<text class="b" y="89.5"><tspan x="239">132336</tspan><tspan x="479">132336</tspan><tspan x="719">133440</tspan><tspan x="959">134544</tspan></text>
<text class="c" y="103"><tspan x="239">34.35%</tspan><tspan x="479">34.35%</tspan><tspan x="719">22.37%</tspan><tspan x="959">9.87%</tspan></text>
</g>

<g id="row-30" transform="translate(31.33 4294.5)">
<rect class="yb" x="720" y="-10" width="225" height="80"/>
<use href="#st4"/>
<path class="zY" d="M0 30H74.7M240 30H314.7M480 30H554.7M720 30H794.7"/>
<path class="zO" d="M90 60H164.7M180 60H224.7M330 60H404.7M420 60H464.7M570 60H704.7M810 60H944.7"/>
<g class="Y" transform="translate(0 30)"><use href="#n" x="0"/><use href="#n" x="240"/><use href="#n" x="480"/><use href="#s" x="720"/></g>
<g class="O" transform="translate(0 60)"><use href="#n" x="90"/><use href="#n" x="180"/><use href="#n" x="330"/><use href="#n" x="420"/><use href="#n" x="570"/><use href="#s" x="810"/></g>
<rect class="ob" x="0" width="668" height="60"/>
<rect class="og" x="720" width="225" height="60"/>
<text class="tp" y="-20"><tspan x="60">♩=131</tspan><tspan x="180">♩=127</tspan><tspan x="420">♩=128</tspan><tspan x="600">♩=130</tspan><tspan x="660">♩=127</tspan><tspan x="900">♩=126</tspan></text>
<text class="mn" y="-8.5"><tspan x="0">117</tspan><tspan x="240">118</tspan><tspan x="480">119</tspan><tspan x="720">120</tspan></text>
<text class="a" y="76.5"><tspan x="239">114</tspan><tspan x="479">114</tspan><tspan x="719">92</tspan><tspan x="959">92</tspan></text>
<text class="b" y="89.5"><tspan x="239">135912</tspan><tspan x="479">137280</tspan><tspan x="719">138342</tspan><tspan x="959">138894</tspan></text>
<text class="c" y="103"><tspan x="239">0.00%</tspan><tspan x="479">0.00%</tspan><tspan x="719">0.00%</tspan><tspan x="959">36.90%</tspan></text>
</g>

<g id="row-31" transform="translate(31.33 4435.5)">
<use href="#st4"/>
<path class="zY" d="M0 30H74.7M240 30H314.7M480 30H554.7M720 30H794.7"/>
<path class="zO" d="M90 60H164.7M180 60H224.7M330 60H464.7M570 60H704.7M810 60H884.7M900 60H944.7"/>
<g class="Y" transform="translate(0 30)"><use href="#n" x="0"/><use href="#n" x="240"/><use href="#n" x="480"/><use href="#n" x="720"/></g>
<g class="O" transform="translate(0 60)"><use href="#n" x="90"/><use href="#n" x="180"/><use href="#n" x="330"/><use href="#n" x="570"/><use href="#n" x="810"/><use href="#n" x="900"/></g>
<text class="tp" y="-20"><tspan x="420">♩=128</tspan><tspan x="660">♩=126</tspan><tspan x="900">♩=130</tspan></text>
<text class="mn" y="-8.5"><tspan x="0">121</tspan><tspan x="240">122</tspan><tspan x="480">123</tspan><tspan x="720">124</tspan></text>
<text class="a" y="76.5"><tspan x="239">114</tspan><tspan x="479">92</tspan><tspan x="719">92</tspan><tspan x="959">114</tspan></text>
<text class="b" y="89.5"><tspan x="239">139578</tspan><tspan x="479">140130</tspan><tspan x="719">140682</tspan><tspan x="959">141366</tspan></text>
<text class="c" y="103"><tspan x="239">36.90%</tspan><tspan x="479">36.90%</tspan><tspan x="719">36.90%</tspan><tspan x="959">36.90%</tspan></text>
</g>

<g id="row-32" transform="translate(31.33 4576.5)">
<use href="#st4"/>
<path class="zY" d="M0 30H74.7M240 30H314.7"/>
<path class="zO" d="M90 60H224.7M330 60H960"/>
<g class="Y" transform="translate(0 30)"><use href="#s" x="0"/><use href="#n" x="240"/></g>
<g class="O" transform="translate(0 60)"><use href="#s" x="90"/><use href="#n" x="330"/></g>
<rect class="og" x="0" width="224.7" height="60"/>
<text class="tp" y="-20"><tspan x="180">♩=128</tspan><tspan x="420">♩=110</tspan></text>
<text class="mn" y="-8.5"><tspan x="0">125</tspan><tspan x="240">126</tspan><tspan x="480">127</tspan><tspan x="720">128</tspan></text>
<text class="a" y="76.5"><tspan x="239">92</tspan><tspan x="479">95</tspan><tspan x="719">48</tspan><tspan x="959">48</tspan></text>
<text class="b" y="89.5"><tspan x="239">141918</tspan><tspan x="479">142488</tspan><tspan x="719">142776</tspan><tspan x="959">143064</tspan></text>
<text class="c" y="103"><tspan x="239">73.80%</tspan><tspan x="479">73.80%</tspan><tspan x="719">73.80%</tspan><tspan x="959">73.80%</tspan></text>
</g>

<g id="row-33" transform="translate(31.33 4717.5)">
<use href="#st4"/>
<path class="zO" d="M0 60H120"/>
<path class="zB" d="M240 45H300M720 45H780"/>
<path class="zY" d="M330 30H404.7M810 30H884.7"/>
<path class="zR" d="M570 15H614.7"/>
<g class="B" transform="translate(0 45)"><use href="#n" x="240"/><use href="#n" x="510"/><use href="#n" x="720"/></g>
<g class="Y" transform="translate(0 30)"><use href="#n" x="330"/><use href="#n" x="420"/><use href="#n" x="480"/><use href="#n" x="540"/><use href="#n" x="810"/><use href="#n" x="900"/></g>
<g class="G"><use href="#n" x="450"/><use href="#n" x="690"/><use href="#n" x="930"/></g>
<g class="R" transform="translate(0 15)"><use href="#n" x="570"/><use href="#n" x="630"/><use href="#n" x="660"/></g>
<rect class="op" x="240" width="10" height="60"/>
<rect class="ob" x="250" width="710" height="60"/>
<text class="tp" y="-20"><tspan x="180">♩=133</tspan><tspan x="240">♩=135</tspan><tspan x="300">♩=134</tspan><tspan x="720">♩=135</tspan></text>
<text class="mn" y="-8.5"><tspan x="0">129</tspan><tspan x="240">130</tspan><tspan x="480">131</tspan><tspan x="720">132</tspan></text>
<text class="a" y="76.5"><tspan x="239">24</tspan><tspan x="479">127</tspan><tspan x="719">184</tspan><tspan x="959">127</tspan></text>
<text class="b" y="89.5"><tspan x="239">143208</tspan><tspan x="479">144732</tspan><tspan x="719">146940</tspan><tspan x="959">148464</tspan></text>
<text class="c" y="103"><tspan x="239">73.80%</tspan><tspan x="479">61.88%</tspan><tspan x="719">49.38%</tspan><tspan x="959">36.88%</tspan></text>
</g>

<g id="row-34" transform="translate(31.33 4858.5)">
<use href="#st4"/>
<path class="zR" d="M90 15H134.7M570 15H614.7"/>
<path class="zB" d="M240 45H300M720 45H780"/>
<path class="zY" d="M330 30H404.7M810 30H884.7"/>
<g class="Y" transform="translate(0 30)"><use href="#n" x="0"/><use href="#n" x="60"/><use href="#n" x="330"/><use href="#n" x="420"/><use href="#n" x="480"/><use href="#n" x="540"/><use href="#n" x="810"/><use href="#n" x="900"/></g>
<g class="B" transform="translate(0 45)"><use href="#n" x="30"/><use href="#n" x="240"/><use href="#n" x="510"/><use href="#n" x="720"/></g>
<g class="R" transform="translate(0 15)"><use href="#n" x="90"/><use href="#n" x="150"/><use href="#n" x="180"/><use href="#n" x="570"/><use href="#n" x="630"/><use href="#n" x="660"/></g>
<g class="G"><use href="#n" x="210"/><use href="#n" x="450"/><use href="#n" x="690"/><use href="#n" x="930"/></g>
<rect class="ob" x="0" width="960" height="60"/>
<text class="tp" y="-20"><tspan x="0">♩=136</tspan><tspan x="240">♩=138</tspan><tspan x="480">♩=135</tspan></text>
<text class="mn" y="-8.5"><tspan x="0">133</tspan><tspan x="240">134</tspan><tspan x="480">135</tspan><tspan x="720">136</tspan></text>
<text class="a" y="76.5"><tspan x="239">184</tspan><tspan x="479">127</tspan><tspan x="719">184</tspan><tspan x="959">127</tspan></text>
<text class="b" y="89.5"><tspan x="239">150672</tspan><tspan x="479">152196</tspan><tspan x="719">154404</tspan><tspan x="959">155928</tspan></text>
<text class="c" y="103"><tspan x="239">24.38%</tspan><tspan x="479">11.88%</tspan><tspan x="719">0.00%</tspan><tspan x="959">0.00%</tspan></text>
</g>

<g id="row-35" transform="translate(31.33 4999.5)">
<use href="#st4"/>
<path class="zR" d="M90 15H134.7M570 15H614.7"/>
<path class="zB" d="M240 45H300M720 45H780"/>
<path class="zY" d="M330 30H404.7M810 30H884.7"/>
<g class="Y" transform="translate(0 30)"><use href="#n" x="0"/><use href="#n" x="60"/><use href="#n" x="480"/><use href="#n" x="540"/><use href="#n" x="810"/><use href="#n" x="900"/><use href="#s" x="330"/><use href="#s" x="420"/></g>
<g class="B" transform="translate(0 45)"><use href="#n" x="30"/><use href="#n" x="510"/><use href="#n" x="720"/><use href="#s" x="240"/></g>
<g class="R" transform="translate(0 15)"><use href="#n" x="90"/><use href="#n" x="150"/><use href="#n" x="180"/><use href="#n" x="570"/><use href="#n" x="630"/><use href="#n" x="660"/></g>
<g class="G"><use href="#n" x="210"/><use href="#n" x="450"/><use href="#n" x="690"/><use href="#n" x="930"/></g>
<rect class="ob" x="0" width="228.6" height="60"/>
<rect class="op" x="228.6" width="11.4" height="60"/>
<rect class="og" x="240" width="180" height="60"/>
<text class="tp" y="-20"><tspan x="0">♩=134</tspan><tspan x="240">♩=136</tspan><tspan x="480">♩=133</tspan><tspan x="720">♩=135</tspan></text>
<text class="mn" y="-8.5"><tspan x="0">137</tspan><tspan x="240">138</tspan><tspan x="480">139</tspan><tspan x="720">140</tspan></text>
<text class="a" y="76.5"><tspan x="239">184</tspan><tspan x="479">127</tspan><tspan x="719">184</tspan><tspan x="959">127</tspan></text>
<text class="b" y="89.5"><tspan x="239">158136</tspan><tspan x="479">159048</tspan><tspan x="719">160152</tspan><tspan x="959">160914</tspan></text>
<text class="c" y="103"><tspan x="239">0.00%</tspan><tspan x="479">32.65%</tspan><tspan x="719">32.65%</tspan><tspan x="959">32.65%</tspan></text>
</g>

<g id="row-36" transform="translate(31.33 5140.5)">
<use href="#st4"/>
<path class="zR" d="M90 15H134.7"/>
<path class="zO" d="M240 60H300M720 60H780"/>
<path class="zB" d="M330 45H404.7M810 45H884.7"/>
<path class="zY" d="M570 30H614.7"/>
<g class="Y" transform="translate(0 30)"><use href="#n" x="0"/><use href="#n" x="60"/><use href="#n" x="570"/><use href="#n" x="630"/><use href="#n" x="660"/></g>
<g class="B" transform="translate(0 45)"><use href="#n" x="30"/><use href="#n" x="330"/><use href="#n" x="420"/><use href="#n" x="480"/><use href="#n" x="540"/><use href="#n" x="810"/><use href="#n" x="900"/></g>
<g class="R" transform="translate(0 15)"><use href="#n" x="90"/><use href="#n" x="150"/><use href="#n" x="180"/><use href="#n" x="450"/><use href="#n" x="690"/><use href="#n" x="930"/></g>
<g class="G"><use href="#n" x="210"/></g>
<g class="O" transform="translate(0 60)"><use href="#n" x="240"/><use href="#n" x="510"/><use href="#n" x="720"/></g>
<text class="tp" y="-20"><tspan x="0">♩=133</tspan><tspan x="240">♩=136</tspan><tspan x="480">♩=134</tspan></text>
<text class="mn" y="-8.5"><tspan x="0">141</tspan><tspan x="240">142</tspan><tspan x="480">143</tspan><tspan x="720">144</tspan></text>
<text class="a" y="76.5"><tspan x="239">184</tspan><tspan x="479">127</tspan><tspan x="719">184</tspan><tspan x="959">127</tspan></text>
<text class="b" y="89.5"><tspan x="239">162018</tspan><tspan x="479">162780</tspan><tspan x="719">163884</tspan><tspan x="959">164646</tspan></text>
<text class="c" y="103"><tspan x="239">32.65%</tspan><tspan x="479">32.65%</tspan><tspan x="719">32.65%</tspan><tspan x="959">32.65%</tspan></text>
</g>

<g id="row-37" transform="translate(31.33 5281.5)">
<use href="#st4"/>
<path class="zY" d="M90 30H134.7M570 30H614.7"/>
<path class="zO" d="M240 60H300M720 60H780"/>
<path class="zB" d="M330 45H404.7M810 45H884.7"/>
<g class="B" transform="translate(0 45)"><use href="#n" x="0"/><use href="#n" x="60"/><use href="#n" x="330"/><use href="#n" x="420"/><use href="#n" x="480"/><use href="#n" x="540"/><use href="#s" x="810"/><use href="#s" x="900"/></g>
<g class="O" transform="translate(0 60)"><use href="#n" x="30"/><use href="#n" x="240"/><use href="#n" x="510"/><use href="#s" x="720"/></g>
<g class="Y" transform="translate(0 30)"><use href="#n" x="90"/><use href="#n" x="150"/><use href="#n" x="180"/><use href="#n" x="570"/><use href="#n" x="630"/><use href="#n" x="660"/></g>
<g class="R" transform="translate(0 15)"><use href="#n" x="210"/><use href="#n" x="450"/><use href="#n" x="690"/><use href="#n" x="930"/></g>
<rect class="og" x="720" width="180" height="60"/>
<text class="tp" y="-20"><tspan x="0">♩=136</tspan><tspan x="720">♩=135</tspan></text>
<text class="mn" y="-8.5"><tspan x="0">145</tspan><tspan x="240">146</tspan><tspan x="480">147</tspan><tspan x="720">148</tspan></text>
<text class="a" y="76.5"><tspan x="239">184</tspan><tspan x="479">127</tspan><tspan x="719">184</tspan><tspan x="959">127</tspan></text>
<text class="b" y="89.5"><tspan x="239">165750</tspan><tspan x="479">166512</tspan><tspan x="719">167616</tspan><tspan x="959">168378</tspan></text>
<text class="c" y="103"><tspan x="239">32.65%</tspan><tspan x="479">32.65%</tspan><tspan x="719">32.65%</tspan><tspan x="959">65.30%</tspan></text>
</g>

<g id="row-38" transform="translate(31.33 5422.5)">
<use href="#st4"/>
<path class="zY" d="M90 30H134.7M570 30H614.7"/>
<path class="zO" d="M240 60H300M720 60H780"/>
<path class="zB" d="M330 45H404.7M810 45H884.7"/>
<g class="B" transform="translate(0 45)"><use href="#n" x="0"/><use href="#n" x="60"/><use href="#n" x="330"/><use href="#n" x="420"/><use href="#n" x="480"/><use href="#n" x="540"/><use href="#n" x="810"/><use href="#n" x="900"/></g>
<g class="O" transform="translate(0 60)"><use href="#n" x="30"/><use href="#n" x="240"/><use href="#n" x="510"/><use href="#n" x="720"/></g>
<g class="Y" transform="translate(0 30)"><use href="#n" x="90"/><use href="#n" x="150"/><use href="#n" x="180"/><use href="#n" x="570"/><use href="#n" x="630"/><use href="#n" x="660"/></g>
<g class="R" transform="translate(0 15)"><use href="#n" x="210"/><use href="#n" x="450"/><use href="#n" x="690"/><use href="#n" x="930"/></g>
<text class="tp" y="-20"><tspan x="0">♩=134</tspan><tspan x="480">♩=136</tspan><tspan x="720">♩=135</tspan></text>
<text class="mn" y="-8.5"><tspan x="0">149</tspan><tspan x="240">150</tspan><tspan x="480">151</tspan><tspan x="720">152</tspan></text>
<text class="a" y="76.5"><tspan x="239">184</tspan><tspan x="479">127</tspan><tspan x="719">184</tspan><tspan x="959">127</tspan></text>
<text class="b" y="89.5"><tspan x="239">169482</tspan><tspan x="479">170244</tspan><tspan x="719">171348</tspan><tspan x="959">172110</tspan></text>
<text class="c" y="103"><tspan x="239">65.30%</tspan><tspan x="479">65.30%</tspan><tspan x="719">65.30%</tspan><tspan x="959">65.30%</tspan></text>
</g>

<g id="row-39" transform="translate(31.33 5563.5)">
<use href="#st4"/>
<path class="zY" d="M90 30H134.7"/>
<path class="zR" d="M570 15H614.7"/>
<g class="B" transform="translate(0 45)"><use href="#n" x="0"/><use href="#n" x="60"/><use href="#n" x="540"/></g>
<g class="O" transform="translate(0 60)"><use href="#n" x="30"/><use href="#n" x="510"/></g>
<g class="Y" transform="translate(0 30)"><use href="#n" x="90"/><use href="#n" x="150"/><use href="#n" x="180"/><use href="#n" x="240"/><use href="#n" x="270"/><use href="#n" x="300"/><use href="#n" x="330"/><use href="#n" x="360"/><use href="#n" x="390"/><use href="#n" x="420"/><use href="#n" x="450"/><use href="#n" x="480"/><use href="#n" x="720"/><use href="#n" x="750"/><use href="#n" x="780"/><use href="#n" x="810"/><use href="#n" x="840"/><use href="#n" x="870"/><use href="#n" x="900"/><use href="#n" x="930"/></g>
<g class="R" transform="translate(0 15)"><use href="#n" x="210"/><use href="#n" x="570"/><use href="#n" x="630"/><use href="#n" x="660"/><use href="#n" x="690"/></g>
<rect class="op" x="420" width="10" height="60"/>
<rect class="ob" x="430" width="530" height="60"/>
<text class="tp" y="-20"><tspan x="240">♩=138</tspan><tspan x="480">♩=135</tspan><tspan x="720">♩=132</tspan></text>
<text class="mn" y="-8.5"><tspan x="0">153</tspan><tspan x="240">154</tspan><tspan x="480">155</tspan><tspan x="720">156</tspan></text>
<text class="a" y="76.5"><tspan x="239">184</tspan><tspan x="479">200</tspan><tspan x="719">184</tspan><tspan x="959">200</tspan></text>
<text class="b" y="89.5"><tspan x="239">173214</tspan><tspan x="479">174714</tspan><tspan x="719">176922</tspan><tspan x="959">179322</tspan></text>
<text class="c" y="103"><tspan x="239">65.30%</tspan><tspan x="479">62.74%</tspan><tspan x="719">50.24%</tspan><tspan x="959">37.74%</tspan></text>
</g>

<g id="row-40" transform="translate(31.33 5704.5)">
<use href="#st4"/>
<path class="zR" d="M90 15H134.7M900 15H960"/>
<path class="zO" d="M720 60H780"/>
<path class="zY" d="M810 30H884.7"/>
<g class="O" transform="translate(0 60)"><use href="#n" x="0"/><use href="#n" x="510"/><use href="#n" x="720"/></g>
<g class="B" transform="translate(0 45)"><use href="#n" x="30"/><use href="#n" x="540"/></g>
<g class="Y" transform="translate(0 30)"><use href="#n" x="60"/><use href="#n" x="240"/><use href="#n" x="270"/><use href="#n" x="300"/><use href="#n" x="330"/><use href="#n" x="360"/><use href="#n" x="390"/><use href="#n" x="420"/><use href="#n" x="450"/><use href="#n" x="480"/><use href="#n" x="810"/></g>
<g class="R" transform="translate(0 15)"><use href="#n" x="90"/><use href="#n" x="150"/><use href="#n" x="180"/><use href="#n" x="210"/><use href="#n" x="570"/><use href="#n" x="600"/><use href="#n" x="630"/><use href="#n" x="660"/><use href="#n" x="900"/></g>
<g class="G"><use href="#n" x="690"/></g>
<rect class="ob" x="0" width="723" height="60"/>
<text class="tp" y="-20"><tspan x="0">♩=137</tspan><tspan x="240">♩=135</tspan><tspan x="480">♩=136</tspan><tspan x="720">♩=134</tspan></text>
<text class="mn" y="-8.5"><tspan x="0">157</tspan><tspan x="240">158</tspan><tspan x="480">159</tspan><tspan x="720">160</tspan></text>
<text class="a" y="76.5"><tspan x="239">184</tspan><tspan x="479">200</tspan><tspan x="719">200</tspan><tspan x="959">114</tspan></text>
<text class="b" y="89.5"><tspan x="239">181530</tspan><tspan x="479">183930</tspan><tspan x="719">186330</tspan><tspan x="959">187170</tspan></text>
<text class="c" y="103"><tspan x="239">25.24%</tspan><tspan x="479">12.74%</tspan><tspan x="719">0.24%</tspan><tspan x="959">0.00%</tspan></text>
</g>

<g id="row-41" transform="translate(31.33 5845.5)">
<use href="#st4"/>
<path class="zR" d="M0 15H14.7M120 15H164.7M420 15H494.7M600 15H644.7M900 15H960"/>
<path class="zB" d="M30 45H90M510 45H570"/>
<path class="zG" d="M180 0H224.7M660 0H704.7"/>
<path class="zO" d="M240 60H300M720 60H780"/>
<path class="zY" d="M330 30H404.7M810 30H884.7"/>
<g class="B" transform="translate(0 45)"><use href="#n" x="30"/><use href="#n" x="510"/></g>
<g class="R" transform="translate(0 15)"><use href="#n" x="120"/><use href="#n" x="420"/><use href="#n" x="600"/><use href="#n" x="900"/></g>
<g class="G"><use href="#n" x="180"/><use href="#n" x="660"/></g>
<g class="O" transform="translate(0 60)"><use href="#n" x="240"/><use href="#n" x="720"/></g>
<g class="Y" transform="translate(0 30)"><use href="#n" x="330"/><use href="#n" x="810"/></g>
<text class="tp" y="-20"><tspan x="0">♩=135</tspan><tspan x="240">♩=134</tspan><tspan x="480">♩=135</tspan><tspan x="720">♩=138</tspan></text>
<text class="mn" y="-8.5"><tspan x="0">161</tspan><tspan x="240">162</tspan><tspan x="480">163</tspan><tspan x="720">164</tspan></text>
<text class="a" y="76.5"><tspan x="239">108</tspan><tspan x="479">114</tspan><tspan x="719">108</tspan><tspan x="959">114</tspan></text>
<text class="b" y="89.5"><tspan x="239">187818</tspan><tspan x="479">188502</tspan><tspan x="719">189150</tspan><tspan x="959">189834</tspan></text>
<text class="c" y="103"><tspan x="239">0.00%</tspan><tspan x="479">0.00%</tspan><tspan x="719">0.00%</tspan><tspan x="959">0.00%</tspan></text>
</g>

<g id="row-42" transform="translate(31.33 5986.5)">
<use href="#st2"/>
<path class="zR" d="M0 15H14.7M120 15H164.7"/>
<path class="zB" d="M30 45H90"/>
<path class="zG" d="M180 0H240"/>
<g class="B" transform="translate(0 45)"><use href="#n" x="30"/></g>
<g class="R" transform="translate(0 15)"><use href="#n" x="120"/></g>
<g class="G"><use href="#n" x="180"/></g>
<text class="tp" y="-20"><tspan x="0">♩=135</tspan><tspan x="180">♩=138</tspan></text>
<text class="mn" y="-8.5"><tspan x="0">165</tspan><tspan x="240">166</tspan></text>
<text class="a" y="76.5"><tspan x="239">111</tspan><tspan x="479">0</tspan></text>
<text class="b" y="89.5"><tspan x="239">190500</tspan><tspan x="479">190500</tspan></text>
<text class="c" y="103"><tspan x="239">0.00%</tspan><tspan x="479">0.00%</tspan></text>
</g>
</g>
</svg>
